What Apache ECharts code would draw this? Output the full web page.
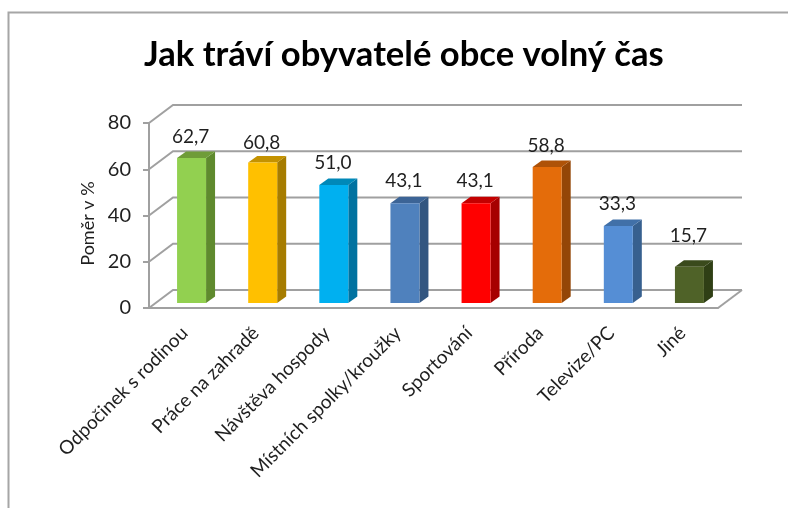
<!DOCTYPE html>
<html>
<head>
<meta charset="utf-8">
<title>Jak tráví obyvatelé obce volný čas</title>
<script src="https://cdn.jsdelivr.net/npm/echarts@6/dist/echarts.min.js"></script>
<style>
  html, body { margin: 0; padding: 0; background: #fff; }
  #chart { width: 788px; height: 508px; }
</style>
</head>
<body>
<div id="chart"></div>
<script>
const categories = ['Odpočinek s rodinou', 'Práce na zahradě', 'Návštěva hospody', 'Místních spolky/kroužky', 'Sportování', 'Příroda', 'Televize/PC', 'Jiné']
const values = [62.7, 60.8, 51.0, 43.1, 43.1, 58.8, 33.3, 15.7]
const yTicks = [0, 20, 40, 60, 80]
const frontColors = ['#92d050', '#ffc000', '#00b0f0', '#4f81bd', '#ff0000', '#e46c0a', '#558ed5', '#4f6228']
const sideColors = ['#5f8a2e', '#a67c00', '#0072a0', '#335680', '#a60000', '#944607', '#37608f', '#2f3f15']
const topColors = ['#6f9c38', '#c49200', '#0088b8', '#3c6496', '#c40000', '#ae5208', '#4170a8', '#3a4a1c']

const lineColor = '#a0a0a0'
const textColor = '#1f1f1f'
const fontName = 'Lato'

// fake 3D depth, in pixels
const wallDx = 24
const wallDy = 18
const barW = 29
const barDx = 9
const barDy = 6.5
const barShiftX = 7
const barShiftY = 5
// how far each value label sits above its bar
const labelLift = [21, 20, 22, 22, 22, 21, 22, 31]

function renderWalls (params, api) {
  const rect = params.coordSys
  const right = rect.x + rect.width
  const children = yTicks.map(t => {
    const y = api.coord([0, t])[1]
    return {
      type: 'polyline',
      shape: { points: [[rect.x, y], [rect.x + wallDx, y - wallDy], [right + wallDx, y - wallDy]] },
      style: { stroke: lineColor, lineWidth: 2, fill: null }
    }
  })
  const y0 = api.coord([0, 0])[1]
  children.push({
    type: 'line',
    shape: { x1: right, y1: y0, x2: right + wallDx, y2: y0 - wallDy },
    style: { stroke: lineColor, lineWidth: 2 }
  })
  return { type: 'group', children }
}

function renderBar (params, api) {
  const i = api.value(0)
  const v = api.value(1)
  const left = api.coord([i, 0])[0] + barShiftX - barW / 2
  const right = left + barW
  const bottom = api.coord([i, 0])[1] - barShiftY
  const top = api.coord([i, v])[1] - barShiftY
  return {
    type: 'group',
    children: [
      {
        type: 'polygon',
        shape: { points: [[right, bottom], [right + barDx, bottom - barDy], [right + barDx, top - barDy], [right, top]] },
        style: { fill: sideColors[i] }
      },
      {
        type: 'polygon',
        shape: { points: [[left, top], [left + barDx, top - barDy], [right + barDx, top - barDy], [right, top]] },
        style: { fill: topColors[i] }
      },
      {
        type: 'rect',
        shape: { x: left, y: top, width: barW, height: bottom - top },
        style: { fill: frontColors[i] }
      },
      {
        type: 'text',
        style: {
          x: left + barW / 2 - 1,
          y: top - labelLift[i],
          text: v.toFixed(1).replace('.', ','),
          fill: textColor,
          font: '19px ' + fontName,
          align: 'center',
          verticalAlign: 'middle'
        }
      }
    ]
  }
}

const chart = echarts.init(document.getElementById('chart'))
chart.setOption({
  animation: false,
  backgroundColor: '#fff',
  textStyle: { fontFamily: fontName },
  title: {
    text: 'Jak tráví obyvatelé obce volný čas',
    left: 139,
    top: 32,
    textStyle: { fontSize: 34.6, fontWeight: 'bold', color: '#000', fontFamily: fontName }
  },
  graphic: [{
    type: 'polyline',
    shape: { points: [[8.5, 508], [8.5, 12.5], [788, 12.5]] },
    style: { stroke: '#a6a6a6', lineWidth: 2, fill: null }
  }],
  grid: { left: 149, right: 70, top: 123, bottom: 200 },
  xAxis: {
    type: 'category',
    data: categories,
    axisLine: { lineStyle: { color: lineColor, width: 2 } },
    axisTick: { length: 5, lineStyle: { color: lineColor, width: 2 } },
    axisLabel: { rotate: 45, interval: 0, margin: 22, fontSize: 19, color: textColor }
  },
  yAxis: {
    type: 'value',
    min: 0,
    max: 80,
    interval: 20,
    name: 'Poměr v %',
    nameLocation: 'middle',
    nameRotate: 90,
    nameGap: 47,
    nameTextStyle: { fontSize: 18, color: textColor, padding: [0, 16, 0, 0] },
    axisLine: { show: true, lineStyle: { color: lineColor, width: 2 } },
    axisTick: { show: true, length: 6, lineStyle: { color: lineColor, width: 2 } },
    axisLabel: { fontSize: 20, margin: 18, color: textColor, padding: [8, 0, 0, 0] },
    splitLine: { show: false }
  },
  series: [
    {
      type: 'custom',
      coordinateSystem: 'cartesian2d',
      renderItem: renderWalls,
      data: [[0, 0]],
      clip: false,
      silent: true,
      z: 1
    },
    {
      type: 'custom',
      coordinateSystem: 'cartesian2d',
      renderItem: renderBar,
      encode: { x: 0, y: 1 },
      data: values.map((v, i) => [i, v]),
      clip: false,
      z: 2
    }
  ]
})
</script>
</body>
</html>
